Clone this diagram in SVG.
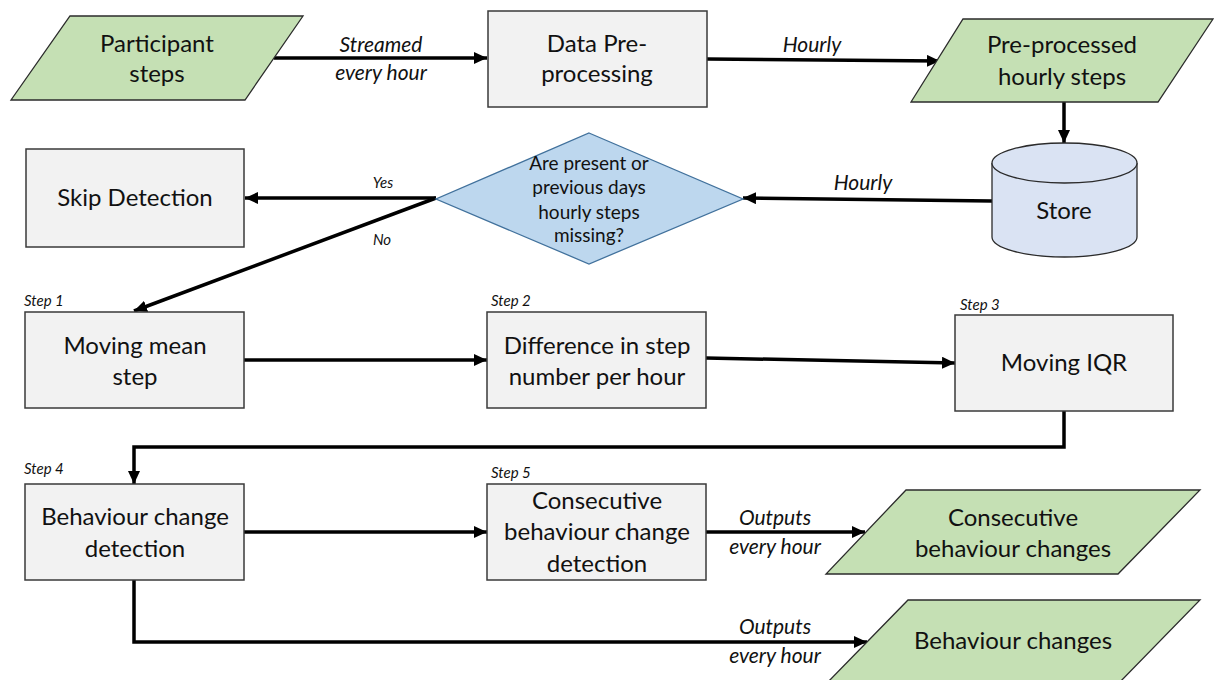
<svg xmlns="http://www.w3.org/2000/svg" width="1217" height="680" viewBox="0 0 1217 680">
  <defs>
    <marker id="arrow" markerUnits="userSpaceOnUse" markerWidth="14" markerHeight="12" refX="13" refY="6" orient="auto">
      <path d="M0,0 L13,6 L0,12 Z" fill="#000"/>
    </marker>
    <style>
      .io { fill: #c5e0b4; stroke: #2b2b2b; stroke-width: 1.3; }
      .proc { fill: #f2f2f2; stroke: #3a3a3a; stroke-width: 1.5; }
      .dec { fill: #bdd7ee; stroke: #41719c; stroke-width: 1.3; }
      .db { fill: #dae3f3; stroke: #2b2b2b; stroke-width: 1.3; }
      .t { font-family: Lato, "Liberation Sans", sans-serif; font-size: 24px; fill: #111; text-anchor: middle; }
      .q { font-family: Lato, "Liberation Sans", sans-serif; font-size: 19px; fill: #111; text-anchor: middle; }
      .lbl { font-family: Lato, "Liberation Sans", sans-serif; font-size: 21px; font-style: italic; fill: #111; text-anchor: middle; }
      .sm { font-family: Lato, "Liberation Sans", sans-serif; font-size: 15px; font-style: italic; fill: #111; }
      .edge { fill: none; stroke: #000; stroke-width: 3.5; }
    </style>
  </defs>
  <rect width="1217" height="680" fill="#fff"/>

  <!-- connectors -->
  <g id="connectors">
    <line class="edge" x1="274" y1="58" x2="487" y2="58" marker-end="url(#arrow)"/>
    <line class="edge" x1="707" y1="59" x2="940" y2="61" marker-end="url(#arrow)"/>
    <line class="edge" x1="1064" y1="102" x2="1064" y2="143" marker-end="url(#arrow)"/>
    <line class="edge" x1="992" y1="201" x2="743" y2="198" marker-end="url(#arrow)"/>
    <line class="edge" x1="436" y1="198" x2="245" y2="198" marker-end="url(#arrow)"/>
    <line class="edge" x1="436" y1="198" x2="134" y2="311" marker-end="url(#arrow)"/>
    <line class="edge" x1="244" y1="360" x2="487" y2="360" marker-end="url(#arrow)"/>
    <line class="edge" x1="706" y1="358" x2="955" y2="363" marker-end="url(#arrow)"/>
    <polyline class="edge" points="1064,411 1064,447 134,447 134,484" marker-end="url(#arrow)"/>
    <line class="edge" x1="244" y1="532" x2="487" y2="532" marker-end="url(#arrow)"/>
    <line class="edge" x1="706" y1="532" x2="865" y2="532" marker-end="url(#arrow)"/>
    <polyline class="edge" points="134,580 134,642 867,642" marker-end="url(#arrow)"/>

    <text class="lbl" x="381" y="52">Streamed</text>
    <text class="lbl" x="381" y="80">every hour</text>
    <text class="lbl" x="812" y="52">Hourly</text>
    <text class="lbl" x="863" y="190">Hourly</text>
    <text class="sm" x="383" y="188" text-anchor="middle">Yes</text>
    <text class="sm" x="382" y="245" text-anchor="middle">No</text>
    <text class="lbl" x="775" y="525">Outputs</text>
    <text class="lbl" x="775" y="554">every hour</text>
    <text class="lbl" x="775" y="634">Outputs</text>
    <text class="lbl" x="775" y="663">every hour</text>
  </g>

  <!-- input data -->
  <g id="participant-steps">
    <polygon class="io" points="70,16 303,16 245,100 11,100"/>
    <text class="t" x="157" y="52">Participant</text>
    <text class="t" x="157" y="82">steps</text>
  </g>

  <g id="data-preprocessing">
    <rect class="proc" x="488" y="11" width="219" height="96"/>
    <text class="t" x="597" y="52">Data Pre-</text>
    <text class="t" x="597" y="82">processing</text>
  </g>

  <g id="preprocessed-steps">
    <polygon class="io" points="963,19 1213,19 1158,102 911,102"/>
    <text class="t" x="1062" y="53">Pre-processed</text>
    <text class="t" x="1062" y="85">hourly steps</text>
  </g>

  <g id="store">
    <path class="db" d="M992,163 A72.5,20 0 0 1 1137,163 L1137,237 A72.5,20 0 0 1 992,237 Z"/>
    <path class="db" d="M992,163 A72.5,20 0 0 0 1137,163" fill="none"/>
    <text class="t" x="1064" y="219">Store</text>
  </g>

  <g id="missing-check">
    <polygon class="dec" points="589,133 743,199 589,264 436,199"/>
    <text class="q" x="589" y="170">Are present or</text>
    <text class="q" x="589" y="194">previous days</text>
    <text class="q" x="589" y="219">hourly steps</text>
    <text class="q" x="589" y="242">missing?</text>
  </g>

  <g id="skip-detection">
    <rect class="proc" x="26" y="149" width="218" height="98"/>
    <text class="t" x="135" y="206">Skip Detection</text>
  </g>

  <!-- detection steps -->
  <g id="step1">
    <text class="sm" x="24" y="306">Step 1</text>
    <rect class="proc" x="25" y="312" width="219" height="96"/>
    <text class="t" x="135" y="354">Moving mean</text>
    <text class="t" x="135" y="385">step</text>
  </g>

  <g id="step2">
    <text class="sm" x="491" y="306">Step 2</text>
    <rect class="proc" x="487" y="312" width="219" height="96"/>
    <text class="t" x="597" y="354">Difference in step</text>
    <text class="t" x="597" y="385">number per hour</text>
  </g>

  <g id="step3">
    <text class="sm" x="960" y="310">Step 3</text>
    <rect class="proc" x="955" y="315" width="218" height="96"/>
    <text class="t" x="1064" y="371">Moving IQR</text>
  </g>

  <g id="step4">
    <text class="sm" x="24" y="474">Step 4</text>
    <rect class="proc" x="25" y="484" width="219" height="96"/>
    <text class="t" x="135" y="525">Behaviour change</text>
    <text class="t" x="135" y="557">detection</text>
  </g>

  <g id="step5">
    <text class="sm" x="491" y="478">Step 5</text>
    <rect class="proc" x="487" y="484" width="219" height="96"/>
    <text class="t" x="597" y="509">Consecutive</text>
    <text class="t" x="597" y="540">behaviour change</text>
    <text class="t" x="597" y="572">detection</text>
  </g>

  <!-- outputs -->
  <g id="consecutive-changes">
    <polygon class="io" points="906,490 1200,490 1118,574 826,574"/>
    <text class="t" x="1013" y="526">Consecutive</text>
    <text class="t" x="1013" y="557">behaviour changes</text>
  </g>

  <g id="behaviour-changes">
    <polygon class="io" points="908,600 1200,600 1118,684 826,684"/>
    <text class="t" x="1013" y="649">Behaviour changes</text>
  </g>
</svg>
